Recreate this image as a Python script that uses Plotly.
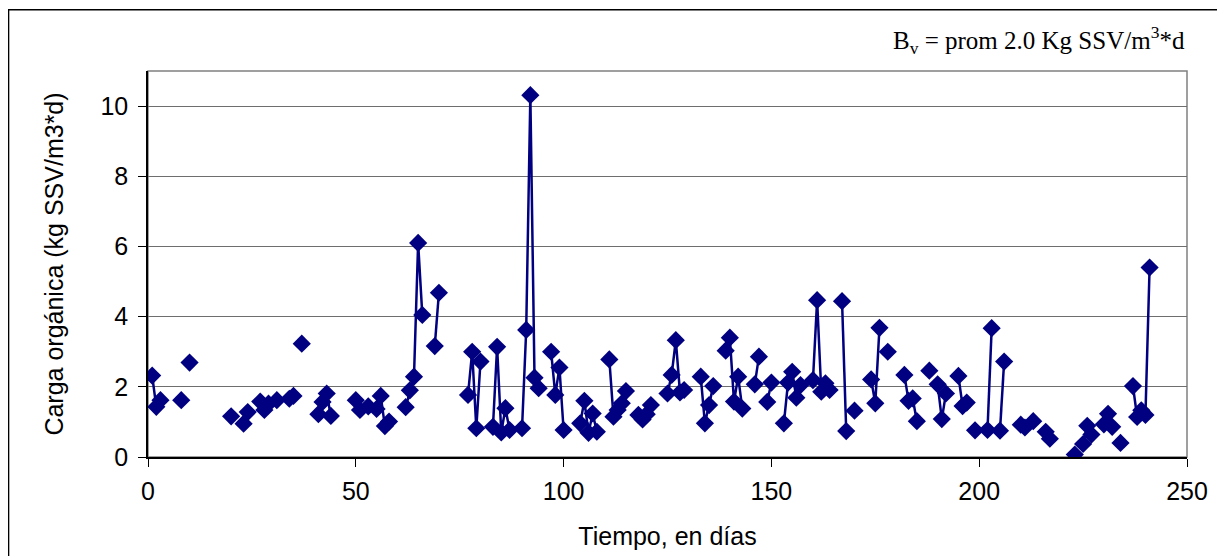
import plotly.graph_objects as go

# Day of measurement and organic load (kg SSV/m3*d)
days = [1, 2, 3, 8, 10, 20, 23, 24, 27, 28, 29, 31, 34, 35, 37, 41, 42, 43, 44,
        50, 51, 53, 55, 56, 57, 58, 62, 63, 64, 65, 66, 69, 70, 77, 78, 79, 80,
        83, 84, 85, 86, 87, 90, 91, 92, 93, 94, 97, 98, 99, 100, 104, 105, 106,
        107, 108, 111, 112, 113, 114, 115, 118, 119, 120, 121, 125, 126, 127,
        128, 129, 133, 134, 135, 136, 139, 140, 141, 142, 143, 146, 147, 149,
        150, 153, 154, 155, 156, 157, 160, 161, 162, 163, 164, 167, 168, 170,
        174, 175, 176, 178, 182, 183, 184, 185, 188, 190, 191, 192, 195, 196,
        197, 199, 202, 203, 205, 206, 210, 211, 213, 216, 217, 223, 225, 226,
        227, 230, 231, 232, 234, 237, 238, 239, 240, 241]
load = [2.32, 1.43, 1.62, 1.62, 2.69, 1.16, 0.95, 1.28, 1.58, 1.34, 1.52, 1.62,
        1.66, 1.74, 3.23, 1.22, 1.57, 1.81, 1.17, 1.62, 1.34, 1.44, 1.37, 1.74,
        0.88, 1.01, 1.42, 1.90, 2.29, 6.10, 4.05, 3.16, 4.68, 1.77, 3.00, 0.82,
        2.72, 0.86, 3.14, 0.70, 1.39, 0.77, 0.82, 3.62, 10.31, 2.26, 1.96, 3.00,
        1.77, 2.55, 0.77, 0.96, 1.60, 0.69, 1.24, 0.72, 2.78, 1.15, 1.34, 1.53,
        1.88, 1.20, 1.07, 1.22, 1.48, 1.81, 2.34, 3.33, 1.84, 1.91, 2.29, 0.96,
        1.48, 2.02, 3.03, 3.40, 1.58, 2.29, 1.38, 2.07, 2.86, 1.57, 2.12, 0.96,
        2.12, 2.43, 1.69, 2.05, 2.19, 4.47, 1.86, 2.10, 1.91, 4.44, 0.74, 1.32,
        2.21, 1.53, 3.68, 3.00, 2.34, 1.60, 1.67, 1.02, 2.46, 2.07, 1.08, 1.81,
        2.31, 1.45, 1.55, 0.76, 0.77, 3.67, 0.75, 2.72, 0.92, 0.84, 1.02, 0.72,
        0.52, 0.07, 0.37, 0.89, 0.64, 0.93, 1.23, 0.86, 0.40, 2.02, 1.14, 1.33,
        1.20, 5.40]

x_ticks = [0, 50, 100, 150, 200, 250]
y_ticks = [0, 2, 4, 6, 8, 10]

# Break the line where days are missing (line only joins consecutive days)
xs, ys = [], []
for i, (d, v) in enumerate(zip(days, load)):
    if i > 0 and d - days[i - 1] > 1:
        xs.append(None)
        ys.append(None)
    xs.append(d)
    ys.append(v)

NAVY = "#000080"
fig = go.Figure()
fig.add_trace(go.Scatter(
    x=xs, y=ys, mode="lines+markers", connectgaps=False,
    line=dict(color=NAVY, width=2.5),
    marker=dict(symbol="diamond", size=14, color=NAVY),
    showlegend=False, hoverinfo="x+y"))

axis_font = dict(family="Liberation Sans, Arial", size=25, color="black")

fig.update_layout(
    width=1225, height=556,
    margin=dict(l=139.5, r=46, t=63, b=107),
    paper_bgcolor="white", plot_bgcolor="white",
    xaxis=dict(range=[0, 250], tickvals=x_ticks, ticks="outside", ticklen=8,
               tickcolor="black", showline=True, linecolor="black", linewidth=1.5,
               showgrid=False, zeroline=False, tickfont=axis_font,
               ticklabelstandoff=3,
               title=dict(text="Tiempo, en días", font=axis_font, standoff=24)),
    yaxis=dict(range=[0, 11], tickvals=y_ticks, ticks="outside", ticklen=8,
               tickcolor="black", showline=True, linecolor="black", linewidth=1.5,
               showgrid=True, gridcolor="#6e6e6e", gridwidth=1.2, zeroline=False,
               tickfont=axis_font, ticklabelstandoff=5,
               title=dict(text="Carga orgánica (kg SSV/m3*d)", font=axis_font,
                          standoff=30)),
    shapes=[
        dict(type="rect", xref="paper", yref="paper", x0=0, x1=1, y0=0, y1=1,
             line=dict(color="#808080", width=1.5), layer="below"),
        dict(type="rect", xref="paper", yref="paper", x0=-0.1342, x1=1.045,
             y0=-0.27, y1=1.159, line=dict(color="black", width=1.5), layer="below"),
    ],
    annotations=[
        dict(text="B<sub>v</sub> = prom 2.0 Kg SSV/m<sup>3</sup>*d",
             xref="paper", yref="paper", x=1.0, y=1.08, xanchor="right",
             yanchor="middle", showarrow=False,
             font=dict(family="Liberation Serif, Times New Roman", size=25,
                       color="black")),
    ],
)

fig.write_html("out.html")
